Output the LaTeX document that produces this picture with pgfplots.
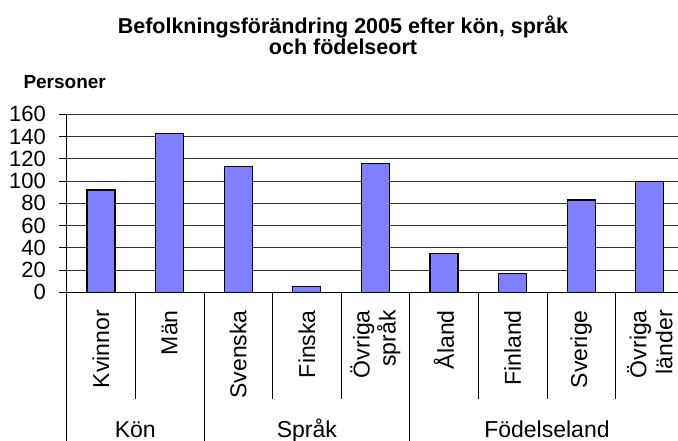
\documentclass[border=0pt]{standalone}
\usepackage{fontspec}
\setmainfont{Liberation Sans}
\usepackage{pgfplots}
\pgfplotsset{compat=1.18}
\definecolor{barblue}{HTML}{8080FF}
\begin{document}
\begin{tikzpicture}[x=1pt,y=1pt]
\path[use as bounding box] (0,0) rectangle (678,-441);
\node[font=\bfseries\fontsize{21.5}{22}\selectfont, anchor=base, inner sep=0] at (343,-33.3) {Befolkningsförändring 2005 efter kön, språk};
\node[font=\bfseries\fontsize{21.5}{22}\selectfont, anchor=base, inner sep=0] at (343,-54.5) {och födelseort};
\node[font=\bfseries\fontsize{19}{19}\selectfont, anchor=base west, inner sep=0] at (23.3,-88.3) {Personer};
\begin{axis}[
  at={(66.7pt,-292.3pt)}, anchor=south west,
  scale only axis, width=611.3pt, height=178pt,
  xmin=-0.5, xmax=8.41, ymin=0, ymax=160,
  ytick={0,20,...,160}, xtick=\empty,
  axis x line*=bottom, axis y line*=left,
  axis line style={black, line width=0.9pt},
  tick align=outside, major tick length=7.7pt,
  ytick style={black, line width=0.8pt},
  ymajorgrids, grid style={black!80, line width=0.8pt},
  /pgf/number format/assume math mode=true,
  yticklabel style={font=\fontsize{22}{22}\selectfont, inner sep=0pt, xshift=-13pt},
  ybar, bar width=28pt,
  clip=false,
]
\addplot[fill=barblue, draw=black, line width=1.1pt] coordinates {
  (0,92) (1,142.5) (2,113.4) (3,5) (4,116) (5,35) (6,17) (7,83) (8,100)
};
\pgfplotsinvokeforeach{0.5,2.5,3.5,5.5,6.5,7.5}{
  \draw[black, line width=0.8pt] (axis cs:#1,0) -- (axis cs:#1,-96.2);
}
\pgfplotsinvokeforeach{-0.5,1.5,4.5}{
  \draw[black, line width=0.8pt] (axis cs:#1,0) -- (axis cs:#1,-140);
}
\tikzset{catlab/.style={rotate=90, anchor=east, align=right, inner sep=0pt, font=\fontsize{23}{26}\selectfont}}
\node[catlab] at (axis cs:0,-16) {Kvinnor};
\node[catlab] at (axis cs:1,-16) {Män};
\node[catlab] at (axis cs:2,-16) {Svenska};
\node[catlab] at (axis cs:3,-16) {Finska};
\node[catlab] at (axis cs:4,-16) {Övriga\\språk};
\node[catlab] at (axis cs:5,-16) {Åland};
\node[catlab] at (axis cs:6,-16) {Finland};
\node[catlab] at (axis cs:7,-16) {Sverige};
\node[catlab] at (axis cs:8,-16) {Övriga\\länder};
\tikzset{grplab/.style={anchor=base, inner sep=0pt, font=\fontsize{23}{23}\selectfont}}
\node[grplab] at (axis cs:0.5,-130.1) {Kön};
\node[grplab] at (axis cs:3,-130.1) {Språk};
\node[grplab] at (axis cs:6.5,-130.1) {Födelseland};
\end{axis}
\end{tikzpicture}
\end{document}
